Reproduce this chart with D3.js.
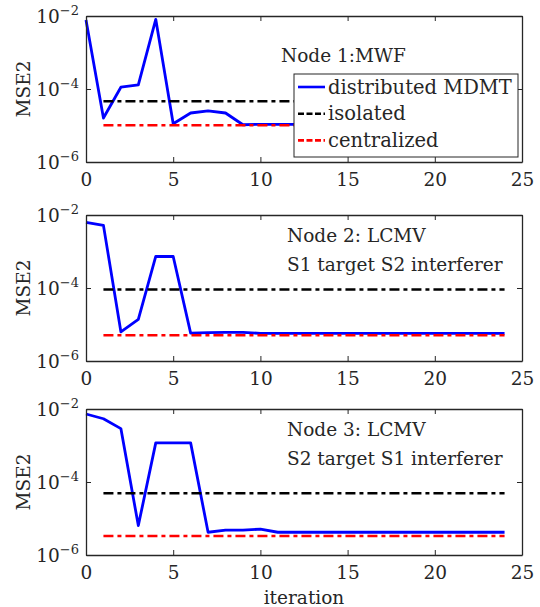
<!DOCTYPE html>
<html>
<head>
<meta charset="utf-8">
<script src="https://cdn.jsdelivr.net/npm/d3@7"></script>
<style>
  body { margin: 0; background: #fff; }
  text { font-family: "DejaVu Serif", serif; fill: #262626; }
</style>
</head>
<body>
<svg width="540" height="607"></svg>
<script>
// iteration index
var iterations = [0, 1, 2, 3, 4, 5, 6, 7, 8, 9, 10, 11, 12, 13, 14, 15, 16, 17, 18, 19, 20, 21, 22, 23, 24];

// distributed MDMT, one series per node
var node1Distributed = [7.8e-3, 1.6e-5, 1.12e-4, 1.3e-4, 8.1e-3, 1.12e-5, 2.2e-5, 2.5e-5, 2.2e-5, 1.05e-5,
  1.08e-5, 1.08e-5, 1.08e-5, 1.08e-5, 1.08e-5, 1.08e-5, 1.08e-5, 1.08e-5, 1.08e-5, 1.08e-5, 1.08e-5, 1.08e-5, 1.08e-5, 1.08e-5, 1.08e-5];
var node2Distributed = [6.3e-3, 5.2e-3, 6.3e-6, 1.38e-5, 7.3e-4, 7.3e-4, 5.8e-6, 6.0e-6, 6.1e-6, 6.1e-6,
  5.7e-6, 5.7e-6, 5.7e-6, 5.7e-6, 5.7e-6, 5.7e-6, 5.7e-6, 5.7e-6, 5.7e-6, 5.7e-6, 5.7e-6, 5.7e-6, 5.7e-6, 5.7e-6, 5.7e-6];
var node3Distributed = [7.3e-3, 5.4e-3, 2.9e-3, 6.4e-6, 1.18e-3, 1.18e-3, 1.18e-3, 4.2e-6, 4.8e-6, 4.8e-6,
  5.1e-6, 4.2e-6, 4.2e-6, 4.2e-6, 4.2e-6, 4.2e-6, 4.2e-6, 4.2e-6, 4.2e-6, 4.2e-6, 4.2e-6, 4.2e-6, 4.2e-6, 4.2e-6, 4.2e-6];

// constant reference levels (drawn from iteration 1 to 24)
var baselineSpan = [1, 24];
var isolatedLevels = [4.6e-5, 9.1e-5, 4.9e-5];
var centralizedLevels = [1.02e-5, 5.1e-6, 3.3e-6];

var nodeTitles = [
  ["Node 1:MWF"],
  ["Node 2: LCMV", "S1 target S2 interferer"],
  ["Node 3: LCMV", "S2 target S1 interferer"]
];
var legendLabels = ["distributed MDMT", "isolated", "centralized"];
var xTicks = [0, 5, 10, 15, 20, 25];
var yTicks = [1e-6, 1e-4, 1e-2];
var yTickExp = ["\u22126", "\u22124", "\u22122"];

var distributed = [node1Distributed, node2Distributed, node3Distributed];

var svg = d3.select("svg");
var left = 86, right = 522, panelH = 146;
var panelTops = [16, 215, 409];
var colors = ["#0000ff", "#000000", "#ff0000"];
var dash = "10,4,4,4";
var axisColor = "#262626";
var fontSize = 18.5;

var x = d3.scaleLinear().domain([0, 25]).range([left, right]);

panelTops.forEach(function(top, p) {
  var y = d3.scaleLog().domain([1e-6, 1e-2]).range([top + panelH, top]);
  var g = svg.append("g");

  // lines
  var line = d3.line().x(function(d) { return x(d[0]); }).y(function(d) { return y(d[1]); });
  g.append("path")
    .datum(iterations.map(function(it, i) { return [it, distributed[p][i]]; }))
    .attr("d", line)
    .attr("fill", "none")
    .attr("stroke", colors[0])
    .attr("stroke-width", 2.8)
    .attr("stroke-linejoin", "round");

  [isolatedLevels[p], centralizedLevels[p]].forEach(function(v, k) {
    g.append("path")
      .datum(baselineSpan.map(function(it) { return [it, v]; }))
      .attr("d", line)
      .attr("fill", "none")
      .attr("stroke", colors[k + 1])
      .attr("stroke-width", 2.5)
      .attr("stroke-dasharray", dash);
  });

  // axes (box with inward ticks)
  var bottomAxis = d3.axisBottom(x).tickValues(xTicks).tickSizeInner(-5).tickSizeOuter(0).tickPadding(11);
  var topAxis = d3.axisTop(x).tickValues(xTicks).tickSizeInner(-5).tickSizeOuter(0).tickFormat("");
  var leftAxis = d3.axisLeft(y).tickValues(yTicks).tickSizeInner(-5).tickSizeOuter(0).tickFormat("");
  var rightAxis = d3.axisRight(y).tickValues(yTicks).tickSizeInner(-5).tickSizeOuter(0).tickFormat("");

  var gb = g.append("g").attr("transform", "translate(0," + (top + panelH) + ")").call(bottomAxis);
  g.append("g").attr("transform", "translate(0," + top + ")").call(topAxis);
  g.append("g").attr("transform", "translate(" + left + ",0)").call(leftAxis);
  g.append("g").attr("transform", "translate(" + right + ",0)").call(rightAxis);

  g.selectAll(".domain").attr("stroke", axisColor).attr("stroke-width", 1.3);
  g.selectAll(".tick line").attr("stroke", axisColor).attr("stroke-width", 1);
  gb.selectAll("text").attr("font-size", fontSize).attr("font-family", null).style("fill", axisColor);

  // y tick labels 10^k
  yTicks.forEach(function(v, i) {
    var t = g.append("text")
      .attr("x", left - 7)
      .attr("y", y(v) + 6.5)
      .attr("text-anchor", "end")
      .attr("font-size", fontSize);
    t.append("tspan").text("10");
    t.append("tspan").attr("dy", -8).attr("font-size", 13).text(yTickExp[i]);
  });

  // y label
  g.append("text")
    .attr("transform", "translate(30," + (top + panelH / 2) + ") rotate(-90)")
    .attr("text-anchor", "middle")
    .attr("font-size", fontSize)
    .text("MSE2");

  // node title
  nodeTitles[p].forEach(function(s, i) {
    g.append("text")
      .attr("x", p === 0 ? 281 : 287)
      .attr("y", top + (p === 0 ? 46 : 27) + i * 29)
      .attr("font-size", fontSize)
      .text(s);
  });

  // legend on first panel
  if (p === 0) {
    var lg = g.append("g");
    lg.append("rect")
      .attr("x", 294).attr("y", 74).attr("width", 224).attr("height", 83)
      .attr("fill", "#fff").attr("stroke", axisColor).attr("stroke-width", 1);
    legendLabels.forEach(function(s, i) {
      var cy = 87 + i * 26.7;
      lg.append("line")
        .attr("x1", 298).attr("x2", 325).attr("y1", cy).attr("y2", cy)
        .attr("stroke", colors[i]).attr("stroke-width", 2.6)
        .attr("stroke-dasharray", i === 0 ? null : "6,2.5");
      lg.append("text")
        .attr("x", 328).attr("y", cy + 6.5)
        .attr("font-size", 19.5)
        .text(s);
    });
  }
});

// x label
svg.append("text")
  .attr("x", (left + right) / 2)
  .attr("y", 604)
  .attr("text-anchor", "middle")
  .attr("font-size", fontSize)
  .text("iteration");
</script>
</body>
</html>
